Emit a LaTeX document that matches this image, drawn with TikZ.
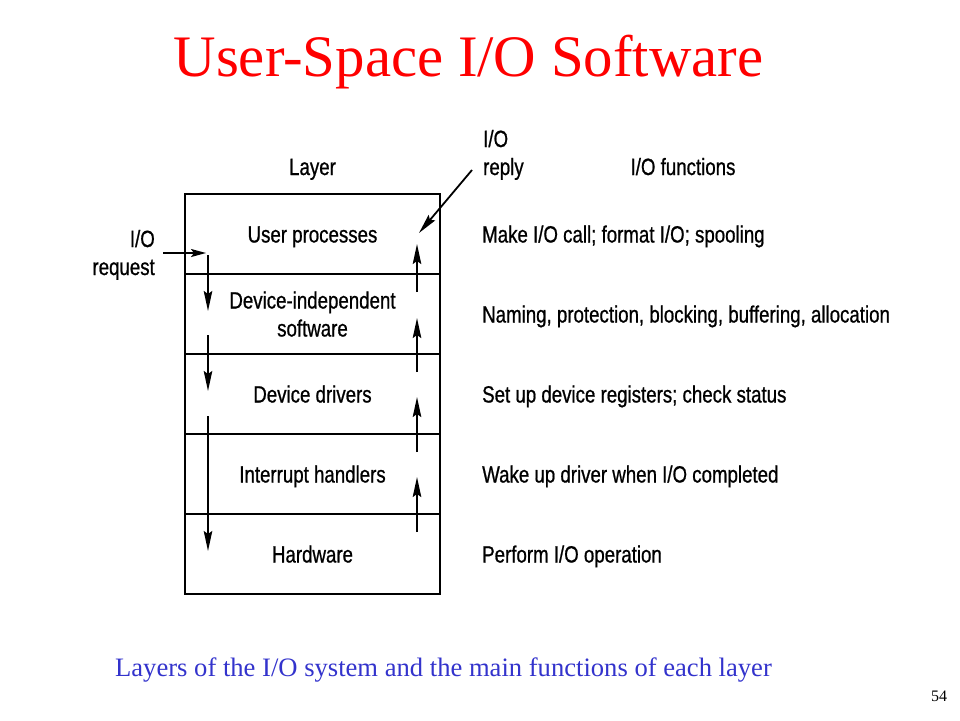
\documentclass[tikz,border=0pt]{standalone}
\usepackage{fontspec}
\setmainfont{Liberation Serif}
\newfontfamily\diagfont[FakeStretch=0.795, FakeBold=0.8]{Liberation Sans}
\usetikzlibrary{positioning,arrows.meta}
\definecolor{captionblue}{RGB}{51,51,204}
\begin{document}
\begin{tikzpicture}[x=1pt, y=-1pt,
    arrowstyle/.style={draw, line width=1.8pt, -{Stealth[length=20pt, width=8.5pt, inset=3pt]}},
    shortarrow/.style={draw, line width=1.8pt, -{Stealth[length=15pt, width=8pt, inset=3pt]}},
    layer/.style={rectangle, draw, line width=2.6pt, minimum width=255pt,
        minimum height=80pt, inner sep=0pt, outer sep=0pt, align=center,
        text height=17pt, text depth=0pt,
        font=\diagfont\fontsize{23.5}{28}\selectfont},
    iofunction/.style={rectangle, inner sep=0pt, anchor=west,
        text height=17pt, text depth=0pt,
        font=\diagfont\fontsize{23.5}{28}\selectfont},
    heading/.style={rectangle, inner sep=0pt,
        text height=17pt, text depth=0pt,
        font=\diagfont\fontsize{23.5}{28}\selectfont},
    twolines/.style={text height=45pt, text depth=0pt},
    slidetitle/.style={text=red, anchor=base, font=\fontsize{58.8}{70}\selectfont},
    slidecaption/.style={text=captionblue, anchor=base, font=\fontsize{26.6}{32}\selectfont}
]
\useasboundingbox (0,0) rectangle (960,720);
% title and caption
\node (Title) [slidetitle] at (468.5,76.7) {User-Space I/O Software};
\node (Caption) [slidecaption] at (443.5,676.7) {Layers of the I/O system and the main functions of each layer};
\node (PageNo) [anchor=base, font=\fontsize{16}{18}\selectfont] at (939,701.7) {54};
% the layers
\node (User) [layer] at (312.5,234) {User processes};
\node (Independent) [layer, twolines, below=0pt of User] {Device-independent\\software};
\node (Drivers) [layer, below=0pt of Independent] {Device drivers};
\node (Interrupt) [layer, below=0pt of Drivers] {Interrupt handlers};
\node (Hardware) [layer, below=0pt of Interrupt] {Hardware};
% headings
\node (LayerHead) [heading] at (312.5,166.5) {Layer};
\node (FunctionHead) [heading] at (683,166.5) {I/O functions};
\node (Request) [heading, twolines, anchor=east, align=right] at (155,252.5) {I/O\\request};
\node (Reply) [heading, twolines, anchor=west, align=left] at (483,152.5) {I/O\\reply};
% functions of each layer
\node (UserFn) [iofunction, right=42pt of User] {Make I/O call; format I/O; spooling};
\node (IndependentFn) [iofunction, right=42pt of Independent] {Naming, protection, blocking, buffering, allocation};
\node (DriversFn) [iofunction, right=42pt of Drivers] {Set up device registers; check status};
\node (InterruptFn) [iofunction, right=42pt of Interrupt] {Wake up driver when I/O completed};
\node (HardwareFn) [iofunction, right=42pt of Hardware] {Perform I/O operation};
% request path
\coordinate (RequestIn) at (206,253);
\coordinate (Down01) at (208,255);
\coordinate (Down01End) at (208,311);
\coordinate (Down02) at (208,335);
\coordinate (Down02End) at (208,391);
\coordinate (Down03) at (208,416);
\coordinate (Down03End) at (208,551);
\draw [shortarrow] ([xshift=8pt]Request.east |- RequestIn) -- (RequestIn);
\draw [arrowstyle] (Down01) -- (Down01End);
\draw [arrowstyle] (Down02) -- (Down02End);
\draw [arrowstyle] (Down03) -- (Down03End);
% reply path
\coordinate (Up01) at (417,532);
\coordinate (Up01End) at (417,477);
\coordinate (Up02) at (417,452);
\coordinate (Up02End) at (417,397);
\coordinate (Up03) at (417,372);
\coordinate (Up03End) at (417,318);
\coordinate (Up04) at (417,292);
\coordinate (Up04End) at (417,244);
\coordinate (ReplyOut) at (419,233);
\draw [arrowstyle] (Up01) -- (Up01End);
\draw [arrowstyle] (Up02) -- (Up02End);
\draw [arrowstyle] (Up03) -- (Up03End);
\draw [arrowstyle] (Up04) -- (Up04End);
\draw [arrowstyle] ([xshift=-11pt,yshift=-17.5pt]Reply.west) -- (ReplyOut);
\end{tikzpicture}
\end{document}
